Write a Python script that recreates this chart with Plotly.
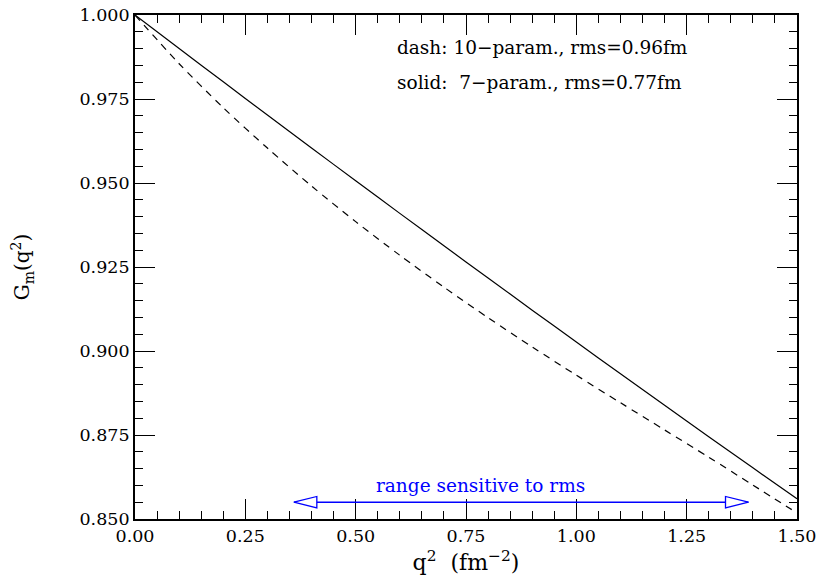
import plotly.graph_objects as go

# data
q2 = [0.0, 0.1, 0.2, 0.3, 0.4, 0.5, 0.6, 0.7, 0.8, 0.9, 1.0, 1.1, 1.2, 1.3, 1.4, 1.5]
g_solid = [1.0, 0.99003, 0.98011, 0.97024, 0.96043, 0.95067, 0.94096, 0.93131, 0.92171,
           0.91216, 0.90267, 0.89323, 0.88384, 0.87451, 0.86523, 0.85601]
g_dash = [1.0, 0.9855, 0.9724, 0.9604, 0.9491, 0.9385, 0.9285, 0.9190, 0.9099,
          0.9012, 0.8928, 0.8846, 0.8765, 0.8684, 0.8601, 0.8518]

legend_lines = ["dash: 10\u2212param., rms=0.96fm", "solid:  7\u2212param., rms=0.77fm"]
range_start, range_end, range_y = 0.36, 1.39, 0.855
range_label = "range sensitive to rms"
range_label_x = 0.782

xr = [0.0, 1.5]
yr = [0.85, 1.0]
FONT = "DejaVu Serif"

fig = go.Figure()
fig.add_trace(go.Scatter(x=q2, y=g_dash, mode="lines", line_shape="spline",
                         line=dict(color="black", width=1.2, dash="7px,6px", smoothing=0.8),
                         showlegend=False, hoverinfo="skip"))
fig.add_trace(go.Scatter(x=q2, y=g_solid, mode="lines", line_shape="spline",
                         line=dict(color="black", width=1.2, smoothing=0.8),
                         showlegend=False, hoverinfo="skip"))
# dummy trace for the mirrored axes
fig.add_trace(go.Scatter(x=xr, y=yr, mode="markers", marker=dict(opacity=0),
                         xaxis="x2", yaxis="y2", showlegend=False, hoverinfo="skip"))

# blue range arrow
blue = "#0000ff"
fig.add_shape(type="line", x0=range_start, x1=range_end, y0=range_y, y1=range_y,
              line=dict(color=blue, width=1.5))
hl = 0.052  # arrowhead length (x units)
hh = 0.0017  # arrowhead half height (y units)
for tip, d in [(range_start, 1), (range_end, -1)]:
    base = tip + d * hl
    path = f"M {tip} {range_y} L {base} {range_y + hh} L {base} {range_y - hh} Z"
    fig.add_shape(type="path", path=path, line=dict(color=blue, width=1.3),
                  fillcolor="white")
fig.add_annotation(x=range_label_x, y=range_y, yshift=17,
                   text=range_label, showarrow=False,
                   font=dict(family=FONT, size=18.5, color=blue))

for i, t in enumerate(legend_lines):
    fig.add_annotation(x=0.588, y=0.9902 - i * 0.0104, text=t, showarrow=False,
                       xanchor="left", yanchor="middle",
                       font=dict(family=FONT, size=18.5, color="black"))

common = dict(showline=True, linecolor="black", linewidth=1.8, ticks="inside",
              ticklen=20, tickwidth=1.2, tickcolor="black", showgrid=False,
              zeroline=False, automargin=False)
minor = dict(ticks="inside", ticklen=8, tickwidth=1.2, tickcolor="black", showgrid=False)

fig.update_layout(
    width=821, height=580,
    margin=dict(l=135, r=24, t=15, b=61, autoexpand=False),
    paper_bgcolor="white", plot_bgcolor="white",
    font=dict(family=FONT, size=17.5, color="black"),
    xaxis=dict(range=xr, tickmode="linear", tick0=0, dtick=0.25, tickformat=".2f",
               minor=dict(dtick=0.05, **minor),
               title=dict(text="q<sup>2</sup>  (fm<sup>\u22122</sup>)", standoff=10,
                          font=dict(size=22)),
               **common),
    yaxis=dict(range=yr, tickmode="linear", tick0=0.85, dtick=0.025, tickformat=".3f",
               minor=dict(dtick=0.005, **minor),
               title=dict(text="G<sub>m</sub>(q<sup>2</sup>)", standoff=44,
                          font=dict(size=20)),
               **common),
    xaxis2=dict(range=xr, overlaying="x", side="top", tickmode="linear", tick0=0,
                dtick=0.25, showticklabels=False, minor=dict(dtick=0.05, **minor),
                anchor="y2", **common),
    yaxis2=dict(range=yr, overlaying="y", side="right", tickmode="linear", tick0=0.85,
                dtick=0.025, showticklabels=False, minor=dict(dtick=0.005, **minor),
                anchor="x2", **common),
)

fig.write_html("out.html")
